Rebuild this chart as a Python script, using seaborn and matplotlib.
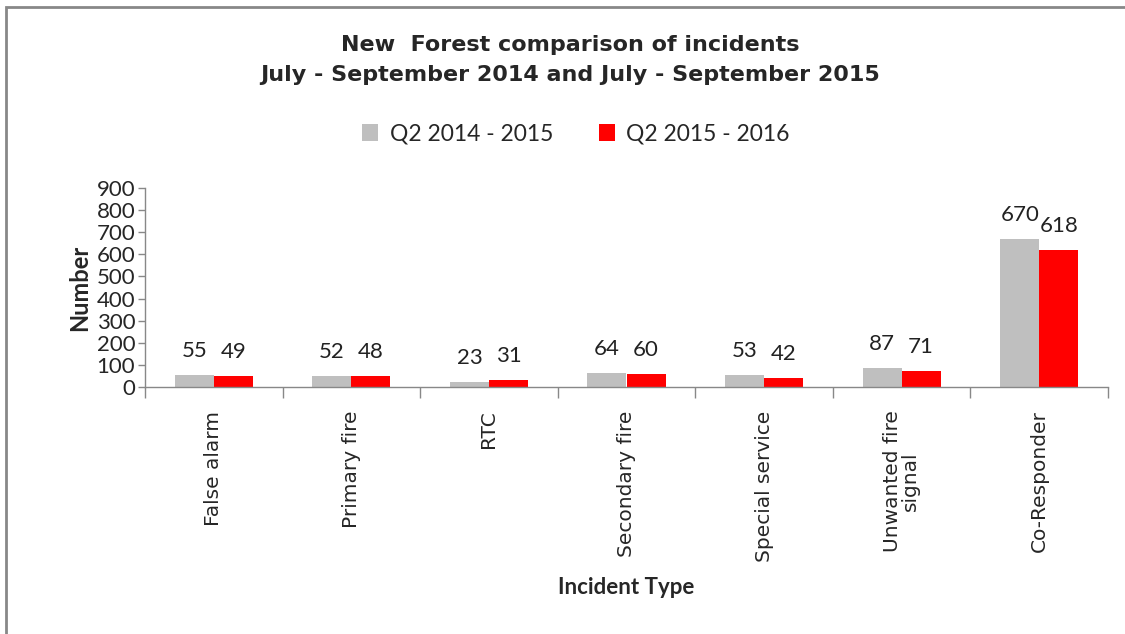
import matplotlib
matplotlib.use("Agg")
import matplotlib.pyplot as plt
import seaborn as sns
import pandas as pd
from matplotlib.patches import Rectangle

# dati
categories = ["False alarm", "Primary fire", "RTC", "Secondary fire",
              "Special service", "Unwanted fire\nsignal", "Co-Responder"]
q2_2014_2015 = [55, 52, 23, 64, 53, 87, 670]
q2_2015_2016 = [49, 48, 31, 60, 42, 71, 618]
series_names = ["Q2 2014 - 2015", "Q2 2015 - 2016"]
y_ticks = [0, 100, 200, 300, 400, 500, 600, 700, 800, 900]

df = pd.DataFrame({
    "incident": categories * 2,
    "number": q2_2014_2015 + q2_2015_2016,
    "period": [series_names[0]] * len(categories) + [series_names[1]] * len(categories),
})

sns.set_theme(style="white")
plt.rcParams["font.family"] = ["DejaVu Sans"]

fig = plt.figure(figsize=(11.25, 6.34), dpi=100)
ax = fig.add_axes([145 / 1125, 1 - 387 / 634, 963 / 1125, 199 / 634])

sns.barplot(
    data=df, x="incident", y="number", hue="period",
    order=categories, hue_order=series_names,
    palette=["#BFBFBF", "#FF0000"], width=0.567, gap=0,
    saturation=1, linewidth=0, ax=ax, legend=True,
)

# etichette sopra le barre
for cont in ax.containers:
    ax.bar_label(cont, padding=10, fontsize=16, family="Lato", color="#222222")

ax.set_xlim(-0.5, len(categories) - 0.5)
ax.set_ylim(0, 900)
ax.set_yticks(y_ticks)
ax.tick_params(axis="y", labelsize=16, length=5, width=1, color="#888888",
               left=True, pad=2)
for lbl in ax.get_yticklabels():
    lbl.set_family("Lato")
ax.set_xticks(range(len(categories)))
ax.set_xticklabels(categories, rotation=90, fontsize=14.5, va="top",
                   ha="center", linespacing=0.95)
ax.set_xticks([i - 0.5 for i in range(len(categories) + 1)], minor=True)
ax.tick_params(axis="x", which="major", length=0, pad=17)
ax.tick_params(axis="x", which="minor", length=8, width=1, color="#888888",
               bottom=True)

for s in ["top", "right"]:
    ax.spines[s].set_visible(False)
for s in ["left", "bottom"]:
    ax.spines[s].set_color("#888888")
    ax.spines[s].set_linewidth(1)

ax.set_xlabel("")
ax.set_ylabel("Number", fontsize=17, fontweight="bold", family="Lato", labelpad=4)
fig.text(626 / 1125, 1 - 588 / 634, "Incident Type", fontsize=16,
         fontweight="bold", family="Lato", ha="center", va="center")

fig.text(570 / 1125, 1 - 45 / 634, "New  Forest comparison of incidents",
         fontsize=16, fontweight="bold", family="DejaVu Sans",
         ha="center", va="center")
fig.text(570 / 1125, 1 - 75 / 634,
         "July - September 2014 and July - September 2015",
         fontsize=16, fontweight="bold", family="DejaVu Sans",
         ha="center", va="center")

handles, labels = ax.get_legend_handles_labels()
ax.legend_.remove()
fig.legend(handles, labels, loc="center", bbox_to_anchor=(576 / 1125, 1 - 134 / 634),
           ncol=2, frameon=False, prop={"family": "Lato", "size": 16.5},
           handlelength=0.7, handleheight=0.7, handletextpad=0.5,
           columnspacing=2.0)

# cornice grigia del grafico
fig.patches.append(Rectangle((6 / 1125, -0.1), 1.2, 1 - 7 / 634 + 0.1,
                             transform=fig.transFigure, fill=False,
                             edgecolor="#888888", linewidth=2))

fig.savefig("out.png", dpi=100)
